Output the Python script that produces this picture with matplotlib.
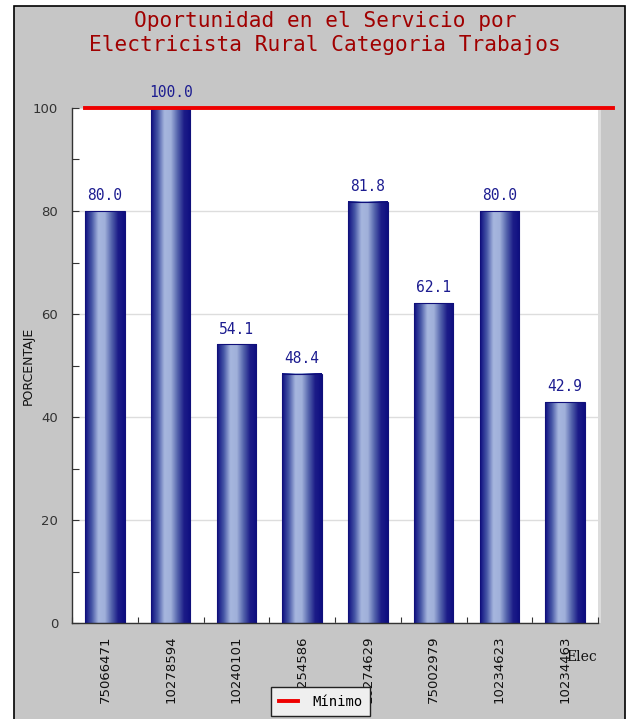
import numpy as np
import matplotlib.pyplot as plt
from matplotlib.colors import LinearSegmentedColormap
from matplotlib.patches import Rectangle
from matplotlib.lines import Line2D

# electricistas (codigo) y porcentaje de oportunidad
codigos = ["75066471", "10278594", "10240101", "10254586",
           "10274629", "75002979", "10234623", "10234463"]
porcentaje = [80.0, 100.0, 54.1, 48.4, 81.8, 62.1, 80.0, 42.9]
minimo = 100.0

titulo = "Oportunidad en el Servicio por\nElectricista Rural Categoria Trabajos"

W, H = 627, 719
fig = plt.figure(figsize=(W / 100, H / 100), dpi=100, facecolor="white")

# marco gris de fondo
fig.patches.append(Rectangle((13.5 / W, -0.05), (625 - 13.5) / W, 1.05 - 5.5 / H,
                             transform=fig.transFigure, facecolor="#c6c6c6",
                             edgecolor="black", linewidth=1.2, zorder=-2))

ax = fig.add_axes([72 / W, (H - 623) / H, (598 - 72) / W, (623 - 108) / H])
ax.set_facecolor("white")

# sombra del area de grafico
fig.patches.append(Rectangle((598 / W, (H - 623) / H), 2.5 / W, (623 - 108) / H,
                             transform=fig.transFigure, facecolor="#dcdcdc",
                             edgecolor="none", zorder=-1))

x = np.arange(len(codigos))
ancho = 0.6

bars = ax.bar(x, porcentaje, width=ancho, facecolor="none",
              edgecolor="#10107a", linewidth=0.8, zorder=3)

# degradado horizontal de cada barra
cmap = LinearSegmentedColormap.from_list(
    "barra", ["#0e0e80", "#4656a6", "#a6b6de", "#a0b0da", "#5464ac",
              "#1c1c88", "#0e0e80"])
grad = np.linspace(0, 1, 128).reshape(1, -1)
for b in bars:
    x0, y0 = b.get_x(), b.get_y()
    ax.imshow(grad, extent=(x0, x0 + b.get_width(), y0, y0 + b.get_height()),
              aspect="auto", cmap=cmap, zorder=2, interpolation="bilinear")

for xi, v in zip(x, porcentaje):
    ax.text(xi, v + 1.5, f"{v:.1f}", ha="center", va="bottom",
            family="DejaVu Sans Mono", fontsize=10.5, color="#1c1c90", zorder=4)

# linea de minimo
ax.plot([x[0] - ancho / 2, len(x) - 0.5 + 0.23], [minimo, minimo],
        color="#ee0000", linewidth=2.8, clip_on=False, zorder=5)

ax.set_xlim(-0.5, len(x) - 0.5)
ax.set_ylim(0, 100)

ax.set_yticks(np.arange(0, 101, 20))
ax.set_yticks(np.arange(10, 100, 20), minor=True)
ax.yaxis.grid(True, color="#dddddd", linewidth=1, zorder=0)
ax.set_axisbelow(True)
ax.tick_params(axis="y", which="both", direction="in", length=5, width=0.8,
               colors="#333333", labelsize=9.5, pad=10)

ax.set_xticks(x)
ax.set_xticklabels(codigos, rotation=90, fontsize=9.5, color="#111111")
ax.set_xticks(np.arange(-0.5, len(x), 1), minor=True)
ax.tick_params(axis="x", which="major", length=0, pad=9)
ax.tick_params(axis="x", which="minor", direction="in", length=4, width=0.8,
               colors="#333333")

for s in ["top", "right"]:
    ax.spines[s].set_visible(False)
for s in ["left", "bottom"]:
    ax.spines[s].set_color("#333333")
    ax.spines[s].set_linewidth(1)

ax.set_ylabel("PORCENTAJE", fontsize=9, color="#111111")
ax.yaxis.set_label_coords(-0.071, 0.5)

fig.text(325 / W, 1 - 33 / H, titulo, ha="center", va="center",
         family="DejaVu Sans Mono", fontsize=15.2, color="#a00000",
         linespacing=1.2)

fig.text(566 / W, 1 - 657 / H, "Elec", ha="left", va="center",
         family="DejaVu Serif", fontsize=10, color="#111111")

leg_handle = Line2D([], [], color="#ee0000", linewidth=2.8)
leg = fig.legend([leg_handle], ["Mínimo"], loc="center",
                 bbox_to_anchor=(320.5 / W, 1 - 701.5 / H),
                 prop={"family": "DejaVu Sans Mono", "size": 10},
                 frameon=True, fancybox=False, handlelength=1.4,
                 handletextpad=1.0, borderpad=0.55)
leg.get_frame().set_facecolor("#efefef")
leg.get_frame().set_edgecolor("#222222")
leg.get_frame().set_linewidth(1)
leg.get_frame().set_alpha(1)
leg.set_zorder(10)

fig.savefig("out.png", dpi=100, facecolor="white")
